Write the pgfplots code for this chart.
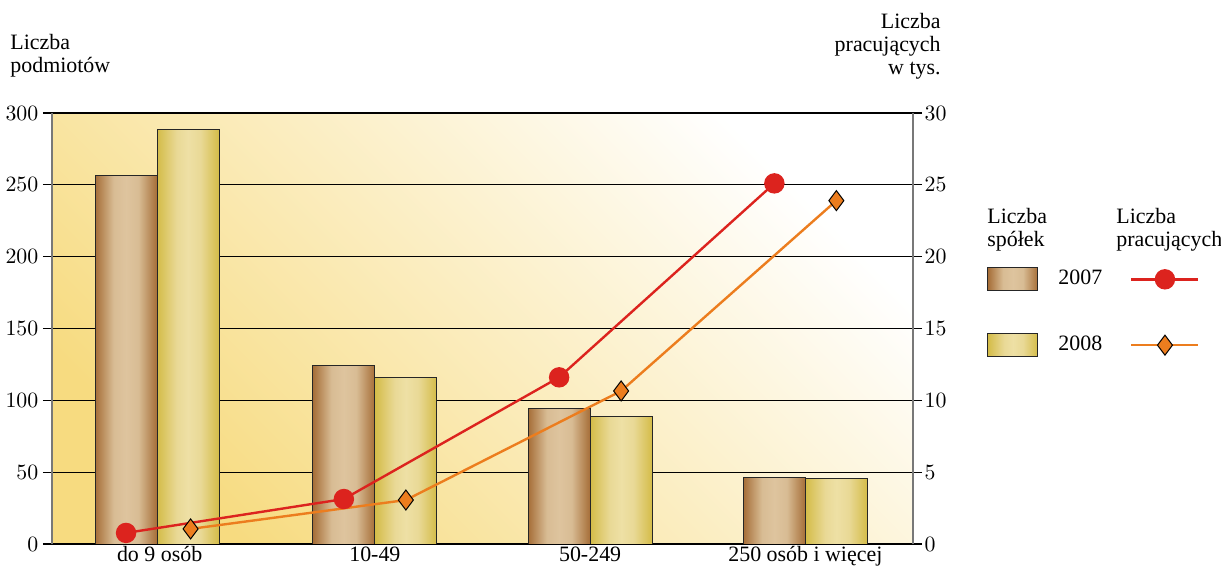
\documentclass[border=0pt]{standalone}
\usepackage{pgfplots}
\pgfplotsset{compat=1.18}
\usepackage{fontspec}
\setmainfont{Liberation Serif}

\definecolor{bdark}{RGB}{166,110,56}
\definecolor{blight}{RGB}{216,188,148}
\definecolor{bhigh}{RGB}{222,196,158}
\definecolor{ydark}{RGB}{212,188,72}
\definecolor{ylight}{RGB}{233,217,150}
\definecolor{yhigh}{RGB}{238,224,165}
\definecolor{bgyel}{RGB}{247,219,128}
\definecolor{redl}{RGB}{220,35,30}
\definecolor{orl}{RGB}{236,125,30}
\definecolor{axgray}{RGB}{120,120,120}

\pgfdeclarehorizontalshading{brownshade}{100bp}{color(0bp)=(bdark); color(25bp)=(bdark); color(40bp)=(blight); color(50bp)=(bhigh); color(60bp)=(blight); color(75bp)=(bdark); color(100bp)=(bdark)}
\pgfdeclarehorizontalshading{yellowshade}{100bp}{color(0bp)=(ydark); color(25bp)=(ydark); color(41bp)=(ylight); color(50bp)=(yhigh); color(60bp)=(ylight); color(75bp)=(ydark); color(100bp)=(ydark)}

\pgfplotsset{
  linelegend/.style={legend image code/.code={\draw[mark repeat=2, mark phase=2, ##1] plot coordinates {(0bp,0bp) (16.75bp,0bp) (33.5bp,0bp)};}},
  brownlegend/.style={legend image code/.code={\draw[draw=black!85, line width=0.5bp, shade, shading=brownshade] (0bp,-5.75bp) rectangle (25bp,5.75bp);}},
  yellowlegend/.style={legend image code/.code={\draw[draw=black!85, line width=0.5bp, shade, shading=yellowshade] (0bp,-5.75bp) rectangle (25bp,5.75bp);}},
  bar07/.style={ybar, bar width=31bp, bar shift=-15.5bp, draw=black!85, line width=0.5bp, shade, shading=brownshade},
  bar08/.style={ybar, bar width=31bp, bar shift=15.5bp, draw=black!85, line width=0.5bp, shade, shading=yellowshade},
}

\begin{document}
\begin{tikzpicture}
\fontsize{11}{11.5}\selectfont
\path[use as bounding box] (-26bp,-15bp) rectangle (584.5bp,272bp);

\begin{axis}[
  at={(0bp,0bp)}, anchor=south west, scale only axis,
  width=430.5bp, height=215.5bp,
  xmin=-0.5, xmax=3.5, ymin=0, ymax=300,
  axis background/.style={bottom color=bgyel, top color=white, shading angle=-45},
  axis x line*=bottom, axis y line*=left,
  x axis line style={black, line width=0.7bp, -},
  y axis line style={axgray, line width=1bp, -},
  xtick={0,1,2,3},
  xticklabels={do 9 osób,10-49,50-249,250 osób i więcej},
  major x tick style={draw=none},
  extra x ticks={0.5,1.5,2.5}, extra x tick labels={},
  extra x tick style={major tick length=5.5bp, tick align=center, tick style={black, line width=0.6bp}},
  ytick={0,50,...,300},
  ytick align=outside, major tick length=4.5bp,
  ymajorgrids, grid style={black, line width=0.6bp},
  y tick style={black, line width=0.6bp},
  tick label style={font=\fontsize{11}{11.5}\selectfont},
  xticklabel style={yshift=2.5bp},
  yticklabel style={xshift=1.5bp},
]
\addplot[bar07] coordinates {(-0.012,256.5)};
\addplot[bar07] coordinates {(1,124.5)};
\addplot[bar07] coordinates {(2,94)};
\addplot[bar07] coordinates {(3,46)};
\addplot[bar08] coordinates {(-0.012,288.5)};
\addplot[bar08] coordinates {(1,116.2)};
\addplot[bar08] coordinates {(2,88.4)};
\addplot[bar08] coordinates {(3,45.3)};
\end{axis}

\begin{axis}[
  at={(0bp,0bp)}, anchor=south west, scale only axis,
  width=430.5bp, height=215.5bp,
  xmin=-0.5, xmax=3.5, ymin=0, ymax=30,
  axis x line=none, axis y line*=right,
  y axis line style={axgray, line width=1bp, -},
  ytick={0,5,...,30},
  ytick align=outside, major tick length=4.5bp,
  y tick style={black, line width=0.6bp},
  tick label style={font=\fontsize{11}{11.5}\selectfont},
  yticklabel style={xshift=-2.5bp},
  legend columns=2,
  legend style={draw=none, fill=none, at={(axis description cs:1.086,0.645)}, anchor=north west,
    font=\fontsize{11}{11.5}\selectfont, inner sep=0pt,
    row sep=20bp,
    /tikz/every odd column/.append style={column sep=8bp},
    /tikz/every even column/.append style={column sep=12bp}},
]
\addlegendimage{brownlegend}
\addlegendentry{2007}
\addplot[redl, line width=1.2bp, mark=*, mark size=4.5bp, mark options={fill=redl, draw=redl}, linelegend]
  coordinates {(-0.156,0.77) (0.856,3.13) (1.856,11.6) (2.856,25.1)};
\addlegendentry{}
\addlegendimage{yellowlegend}
\addlegendentry{2008}
\addplot[orl, line width=1.2bp, mark=diamond*, mark size=5bp, mark options={fill=orl, draw=black, line width=0.5bp}, linelegend]
  coordinates {(0.144,1.05) (1.144,3.06) (2.144,10.65) (3.144,23.9)};
\addlegendentry{}
\end{axis}

\node[anchor=west, align=left, inner sep=0pt] at (-21bp,244bp) {Liczba\\podmiotów};
\node[anchor=east, align=right, inner sep=0pt] at (444.5bp,249bp) {Liczba\\pracujących\\w tys.};
\node[anchor=west, align=left, inner sep=0pt] at (467.5bp,157bp) {Liczba\\spółek};
\node[anchor=west, align=left, inner sep=0pt] at (532bp,157bp) {Liczba\\pracujących};
\end{tikzpicture}
\end{document}
